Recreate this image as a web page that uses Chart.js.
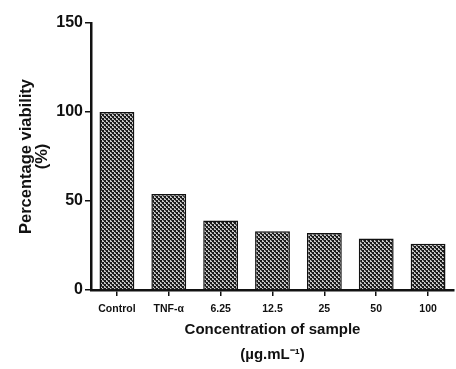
<!DOCTYPE html>
<html>
<head>
<meta charset="utf-8">
<script src="https://cdn.jsdelivr.net/npm/chart.js@4/dist/chart.umd.min.js"></script>
<style>
html,body{margin:0;padding:0;background:#fff;}
canvas{display:block;}
</style>
</head>
<body>
<canvas id="c" width="456" height="369"></canvas>
<script>
const categories = ['Control', 'TNF-α', '6.25', '12.5', '25', '50', '100'];
const viability = [100, 54, 39, 33, 32, 29, 26];
const yTicks = [0, 50, 100, 150];
const yTitle = ['Percentage viability', '(%)'];
const xTitle = ['Concentration of sample', '(µg.mL⁻¹)'];

function makePattern() {
  const p = document.createElement('canvas');
  p.width = 4; p.height = 4;
  const g = p.getContext('2d');
  g.fillStyle = '#c8c8c8';
  g.fillRect(0, 0, 4, 4);
  g.fillStyle = '#1a1a1a';
  g.fillRect(0, 0, 2, 2);
  g.fillRect(2, 2, 2, 2);
  g.fillStyle = '#444';
  g.fillRect(1, 2, 1, 1);
  g.fillRect(3, 0, 1, 1);
  return document.getElementById('c').getContext('2d').createPattern(p, 'repeat');
}

Chart.defaults.font.family = '"Liberation Sans", Arial, sans-serif';
Chart.defaults.color = '#111';

new Chart(document.getElementById('c'), {
  type: 'bar',
  data: {
    labels: categories,
    datasets: [{
      data: viability,
      backgroundColor: makePattern(),
      borderColor: '#111',
      borderWidth: 1.5,
      borderSkipped: 'bottom',
      barPercentage: 0.8,
      categoryPercentage: 0.84
    }]
  },
  options: {
    responsive: false,
    animation: false,
    devicePixelRatio: 1,
    layout: { padding: { top: 23, right: 2, left: 0, bottom: 0 } },
    plugins: { legend: { display: false }, tooltip: { enabled: false } },
    scales: {
      x: {
        afterFit: s => { s.height = 79; },
        grid: { display: true, offset: false, drawOnChartArea: false, drawTicks: true, tickLength: 6, color: '#111', lineWidth: 1.5 },
        border: { display: true, color: '#111', width: 2.5 },
        ticks: { padding: 7, font: { size: 10.5, weight: 'bold' }, color: '#111', maxRotation: 0, autoSkip: false },
        title: {
          display: true, text: xTitle, color: '#111',
          font: { size: 15, weight: 'bold', lineHeight: 1.7 },
          padding: { top: 0, bottom: 1 }
        }
      },
      y: {
        min: 0, max: 150,
        afterFit: s => { s.width = 91; },
        afterBuildTicks: s => { s.ticks = yTicks.map(v => ({ value: v })); },
        grid: { display: true, drawOnChartArea: false, drawTicks: true, tickLength: 6, color: '#111', lineWidth: 1.5 },
        border: { display: true, color: '#111', width: 2.5 },
        ticks: { padding: 2, font: { size: 16, weight: 'bold' }, color: '#111' },
        title: {
          display: true, text: yTitle, color: '#111',
          font: { size: 16.5, weight: 'bold', lineHeight: 1.0 },
          padding: { top: 18, bottom: 0 }
        }
      }
    }
  }
});
</script>
</body>
</html>
